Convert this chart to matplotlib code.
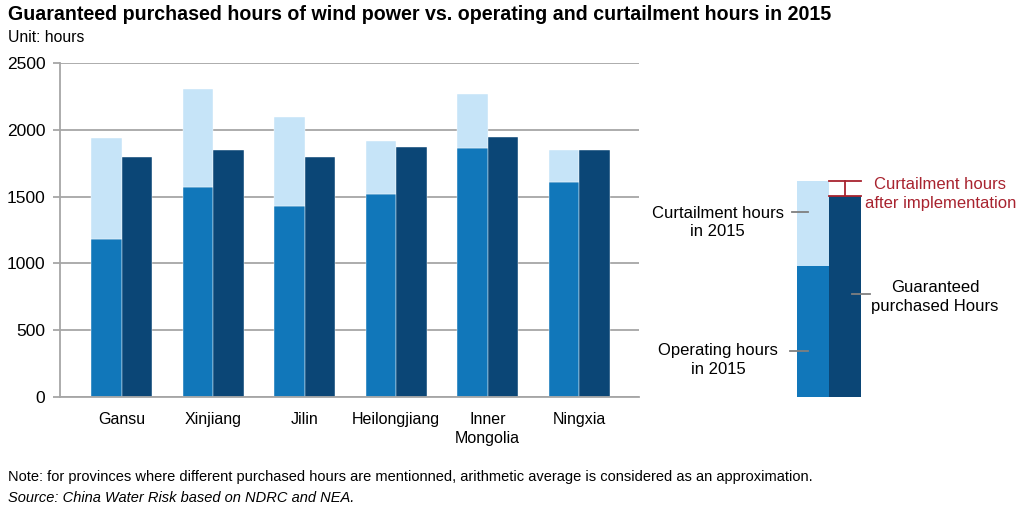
import numpy as np
import matplotlib
matplotlib.use("Agg")
import matplotlib.pyplot as plt

# ------------------- dados -------------------
provincias = ["Gansu", "Xinjiang", "Jilin", "Heilongjiang", "Inner\nMongolia", "Ningxia"]
horas_operacao = [1180, 1570, 1430, 1520, 1865, 1610]
horas_operacao_mais_corte = [1940, 2310, 2100, 1920, 2270, 1850]
horas_garantidas = [1800, 1850, 1800, 1875, 1950, 1850]
y_ticks = [0, 500, 1000, 1500, 2000, 2500]

# barra esquemática da legenda (à direita)
leg_operacao = 983
leg_total = 1620
leg_garantida = 1505
# ---------------------------------------------------------------

COR_CLARA = "#C6E4F8"
COR_MEDIA = "#1177BA"
COR_ESCURA = "#0B4676"
COR_GRADE = "#A6A6A6"
COR_VERMELHA = "#A8232F"

plt.rcParams["font.family"] = ["Liberation Sans", "DejaVu Sans"]

fig = plt.figure(figsize=(10.24, 5.14), dpi=100)
W, H = 1024, 514


def px(x0, y0, x1, y1):
    return [x0 / W, 1 - y1 / H, (x1 - x0) / W, (y1 - y0) / H]


ax = fig.add_axes(px(60, 63.3, 639, 396.7))
x = np.arange(len(provincias))
larg = 0.333
corte = np.array(horas_operacao_mais_corte) - np.array(horas_operacao)

ax.set_axisbelow(True)
ax.yaxis.grid(True, color=COR_GRADE, linewidth=1.3)
ax.bar(x - larg / 2, horas_operacao, width=larg, color=COR_MEDIA, edgecolor="white", linewidth=0.3)
ax.bar(x - larg / 2, corte, bottom=horas_operacao, width=larg, color=COR_CLARA,
       edgecolor="white", linewidth=0.3)
ax.bar(x + larg / 2, horas_garantidas, width=larg, color=COR_ESCURA, edgecolor="white", linewidth=0.3)

ax.set_xlim(-0.673, 5.655)
ax.set_ylim(0, 2500)
ax.set_yticks(y_ticks)
ax.set_xticks(x)
ax.set_xticklabels(provincias, fontsize=11.5, linespacing=1.35)
ax.tick_params(axis="y", labelsize=12.5, length=5, color=COR_GRADE, width=1.3, pad=5.5)
ax.tick_params(axis="x", length=0, pad=11)
for lado in ["top", "right"]:
    ax.spines[lado].set_visible(False)
ax.spines["left"].set_color(COR_GRADE)
ax.spines["left"].set_linewidth(1.3)
ax.spines["bottom"].set_color(COR_GRADE)
ax.spines["bottom"].set_linewidth(1.3)

# ---------------- legenda esquemática ----------------
lg = fig.add_axes(px(749, 63.3, 909, 396.7))
lg.set_xlim(-2.5, 2.5)
lg.set_ylim(0, 2500)
lg.axis("off")
lg.bar(-0.5, leg_operacao, width=1, color=COR_MEDIA)
lg.bar(-0.5, leg_total - leg_operacao, bottom=leg_operacao, width=1, color=COR_CLARA)
lg.bar(0.5, leg_garantida, width=1, color=COR_ESCURA)

# colchete vermelho (corte depois da implementação)
lg.plot([0, 1], [leg_total, leg_total], color=COR_VERMELHA, lw=1.3, clip_on=False)
lg.plot([0, 1], [leg_garantida, leg_garantida], color=COR_VERMELHA, lw=1.3, clip_on=False)
lg.plot([0.5, 0.5], [leg_garantida, leg_total], color=COR_VERMELHA, lw=1.3, clip_on=False)
lg.text(3.48, 1520, "Curtailment hours\nafter implementation", color=COR_VERMELHA,
        fontsize=12, ha="center", va="center", linespacing=1.3, clip_on=False)

# traços cinza e rótulos
y_corte = 1388
y_oper = 345
y_gar = 770
lg.plot([-1.16, -0.66], [y_corte, y_corte], color="#7F7F7F", lw=1.3, clip_on=False)
lg.plot([-1.22, -0.66], [y_oper, y_oper], color="#7F7F7F", lw=1.3, clip_on=False)
lg.plot([0.72, 1.28], [y_gar, y_gar], color="#7F7F7F", lw=1.3, clip_on=False)
lg.text(-3.48, y_corte - 81, "Curtailment hours\nin 2015", fontsize=12,
        ha="center", va="center", linespacing=1.3, clip_on=False)
lg.text(-3.47, y_oper - 70, "Operating hours\nin 2015", fontsize=12,
        ha="center", va="center", linespacing=1.3, clip_on=False)
lg.text(3.31, y_gar - 22, "Guaranteed\npurchased Hours", fontsize=12,
        ha="center", va="center", linespacing=1.3, clip_on=False)

# ---------------- textos ----------------
fig.text(8 / W, 1 - 14 / H,
         "Guaranteed purchased hours of wind power vs. operating and curtailment hours in 2015",
         fontsize=14.1, fontweight="bold", ha="left", va="center")
fig.text(8 / W, 1 - 37 / H, "Unit: hours", fontsize=11.3, ha="left", va="center")
fig.text(8 / W, 1 - 477 / H,
         "Note: for provinces where different purchased hours are mentionned, "
         "arithmetic average is considered as an approximation.",
         fontsize=10.5, ha="left", va="center")
fig.text(8 / W, 1 - 498 / H, "Source: China Water Risk based on NDRC and NEA.",
         fontsize=10.5, style="italic", ha="left", va="center")

fig.savefig("out.png", dpi=100)
